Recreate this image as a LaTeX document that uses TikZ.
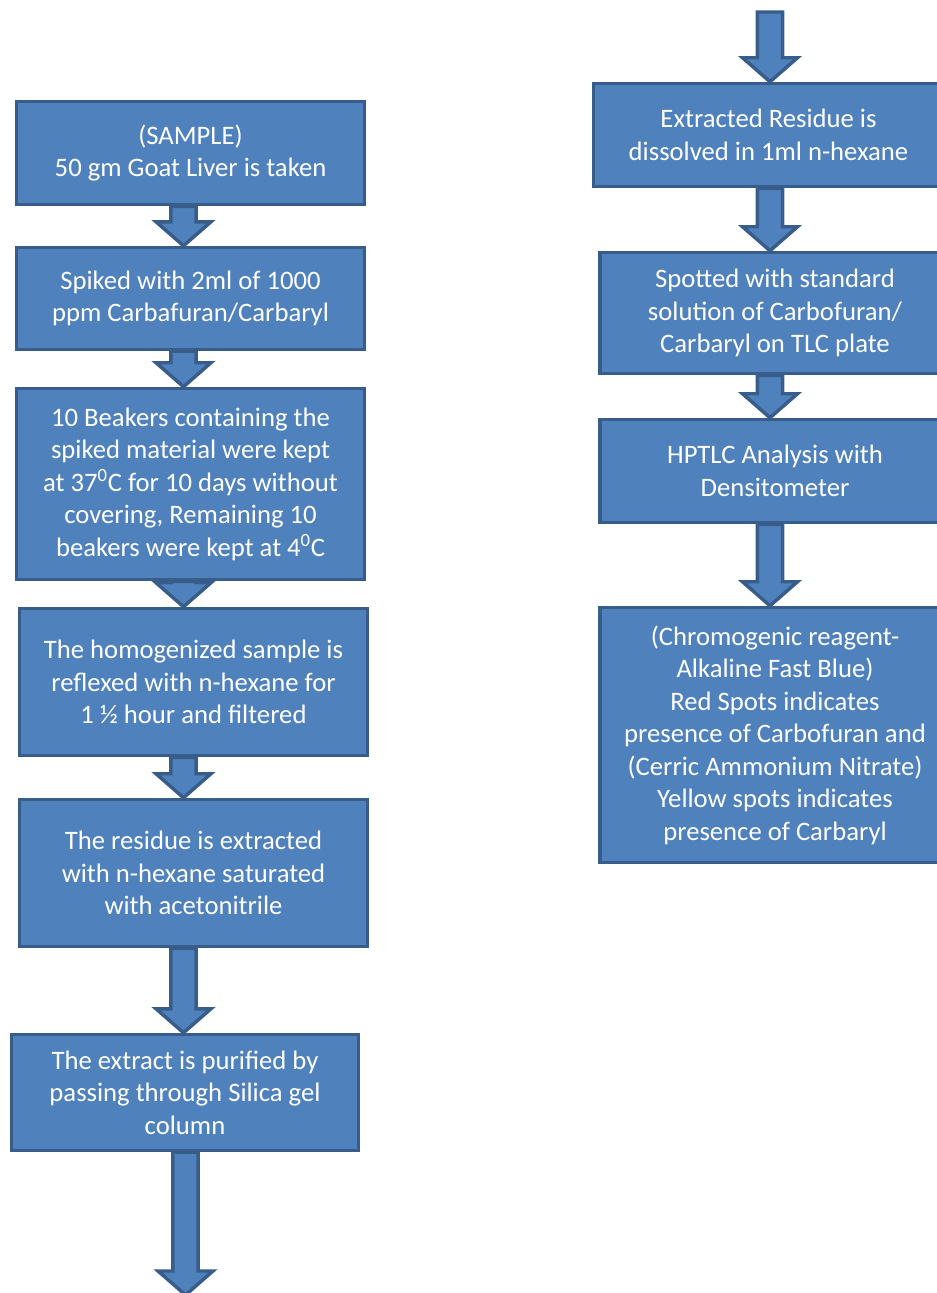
\documentclass[tikz,border=0pt]{standalone}
\usepackage{fontspec}
\setmainfont{Carlito}
\usetikzlibrary{calc}
\definecolor{boxfill}{HTML}{4F81BD}
\definecolor{boxline}{HTML}{385D8A}
\tikzset{
  stepbox/.style={draw=boxline, fill=boxfill, line width=2.6pt, text=white,
    align=center, inner sep=0pt, font=\fontsize{20}{24.4}\selectfont},
  fatarrow/.style={draw=boxline, fill=boxfill, line width=2.6pt, line join=miter},
}
\newcommand\blockarrow[3]{%
  \filldraw[fatarrow] let \p1=(#1 |- #2), \p2=(#1 |- #3) in
   (\x1-9.4pt,\y1) -- (\x1-9.4pt,\y2+18pt) -- (\x1-20.6pt,\y2+18pt) -- (\x2,\y2)
   -- (\x1+20.6pt,\y2+18pt) -- (\x1+9.4pt,\y2+18pt) -- (\x1+9.4pt,\y1) -- cycle;}
\begin{document}
\begin{tikzpicture}[x=0.75pt,y=-0.75pt]
\useasboundingbox (0,0) rectangle (937,1293);
\clip (0,0) rectangle (937,1293);
% left column
\node[stepbox, minimum width=261pt, minimum height=77.3pt] (b1) at (190.5,153)
  {(SAMPLE)\\50 gm Goat Liver is taken};
\node[stepbox, minimum width=261pt, minimum height=76.5pt] (b2) at (190.5,298.5)
  {Spiked with 2ml of 1000\\ppm Carbafuran/Carbaryl};
\node[stepbox, minimum width=261pt, minimum height=143.3pt] (b3) at (190.5,484)
  {10 Beakers containing the\\spiked material were kept\\at 37\textsuperscript{0}C for 10 days without\\covering, Remaining 10\\beakers were kept at 4\textsuperscript{0}C};
\node[stepbox, minimum width=261pt, minimum height=110.3pt] (b4) at (193.5,682)
  {The homogenized sample is\\reflexed with n-hexane for\\1 ½ hour and filtered};
\node[stepbox, minimum width=261pt, minimum height=110.3pt] (b5) at (193.5,873)
  {The residue is extracted\\with n-hexane saturated\\with acetonitrile};
\node[stepbox, minimum width=260pt, minimum height=87pt] (b6) at (185,1092.5)
  {The extract is purified by\\passing through Silica gel\\column};
% right column
\node[stepbox, minimum width=262.5pt, minimum height=77.3pt] (r1) at (768.5,135)
  {Extracted Residue is\\dissolved in 1ml n-hexane};
\node[stepbox, minimum width=262.5pt, minimum height=90.8pt] (r2) at (775,313)
  {Spotted with standard\\solution of Carbofuran/\\Carbaryl on TLC plate};
\node[stepbox, minimum width=262.5pt, minimum height=77.3pt] (r3) at (775,471)
  {HPTLC Analysis with\\Densitometer};
\node[stepbox, minimum width=262.5pt, minimum height=191.3pt] (r4) at (775,735)
  {(Chromogenic reagent-\\Alkaline Fast Blue)\\Red Spots indicates\\presence of Carbofuran and\\(Cerric Ammonium Nitrate)\\Yellow spots indicates\\presence of Carbaryl};
% arrow axes
\coordinate (lx) at (183.5,0);
\coordinate (lx6) at (185.5,0);
\coordinate (rx) at (770,0);
\coordinate (rtop) at (770,12);
\coordinate (lend) at (185.5,1295);
% arrows
\blockarrow{lx}{b1.south}{b2.north}
\blockarrow{lx}{b2.south}{b3.north}
\blockarrow{lx}{b3.south}{b4.north}
\blockarrow{lx}{b4.south}{b5.north}
\blockarrow{lx}{b5.south}{b6.north}
\blockarrow{lx6}{b6.south}{lend}
\blockarrow{rx}{rtop}{r1.north}
\blockarrow{rx}{r1.south}{r2.north}
\blockarrow{rx}{r2.south}{r3.north}
\blockarrow{rx}{r3.south}{r4.north}
\end{tikzpicture}
\end{document}
